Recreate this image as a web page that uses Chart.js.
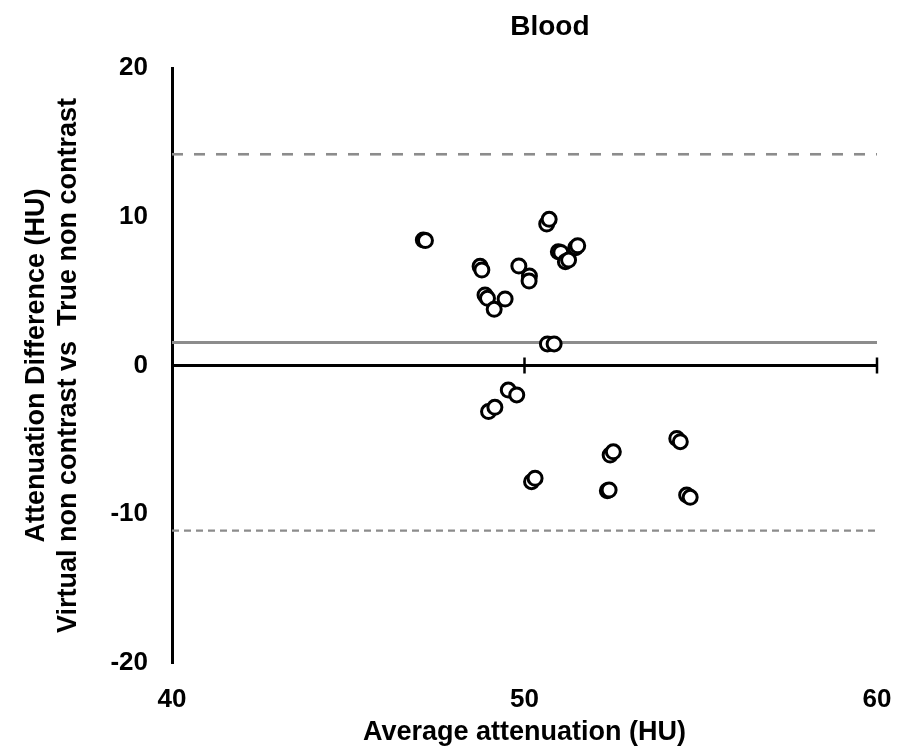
<!DOCTYPE html>
<html>
<head>
<meta charset="utf-8">
<title>Blood</title>
<script src="https://cdn.jsdelivr.net/npm/chart.js@4/dist/chart.umd.min.js"></script>
<style>
    body { margin: 0; background: #fff; }
    #wrap { width: 905px; height: 747px; }
</style>
</head>
<body>
<div id="wrap"><canvas id="blandAltman" width="905" height="747"></canvas></div>
<script>
// Data
const avgAttenuation = [47.13, 47.19, 48.74, 48.79, 48.88, 48.95, 49.14, 49.45, 49.84, 50.14, 50.13, 50.63, 50.70, 50.96, 51.03, 51.16, 51.25, 51.45, 51.51, 50.65, 50.84, 49.54, 49.78, 48.98, 49.16, 50.20, 50.30, 52.43, 52.52, 52.35, 52.40, 54.32, 54.42, 54.60, 54.70];
const attenDiff = [8.44, 8.40, 6.67, 6.42, 4.74, 4.52, 3.78, 4.47, 6.69, 6.02, 5.68, 9.51, 9.83, 7.65, 7.60, 6.98, 7.09, 7.92, 8.05, 1.45, 1.45, -1.65, -1.98, -3.10, -2.81, -7.81, -7.58, -6.02, -5.80, -8.42, -8.37, -4.90, -5.12, -8.71, -8.86];
const lineSpan = [40, 60];
const meanDiff = 1.55;
const upperLimit = 14.2;
const lowerLimit = -11.1;
const xTicks = [40, 50, 60];
const yTicks = [-20, -10, 0, 10, 20];

const FONT = "'Liberation Sans', Arial, sans-serif";

function hLine(yVal) {
    return lineSpan.map(x => ({ x: x, y: yVal }));
}

// zero axis with crossing ticks + chart title
const extrasPlugin = {
    id: 'extras',
    beforeDatasetsDraw(chart) {
        const { ctx, scales: { x, y } } = chart;
        const y0 = y.getPixelForValue(0);
        ctx.save();
        ctx.strokeStyle = '#000';
        ctx.lineWidth = 3;
        ctx.beginPath();
        ctx.moveTo(x.getPixelForValue(xTicks[0]), y0);
        ctx.lineTo(x.getPixelForValue(xTicks[xTicks.length - 1]), y0);
        ctx.stroke();
        ctx.lineWidth = 2.5;
        xTicks.slice(1).forEach(v => {
            const px = x.getPixelForValue(v);
            ctx.beginPath();
            ctx.moveTo(px, y0 - 8);
            ctx.lineTo(px, y0 + 8);
            ctx.stroke();
        });
        ctx.restore();
    },
    afterDraw(chart) {
        const { ctx, chartArea } = chart;
        ctx.save();
        ctx.fillStyle = '#000';
        ctx.font = "bold 28px " + FONT;
        ctx.textAlign = 'center';
        ctx.textBaseline = 'middle';
        ctx.fillText('Blood', chartArea.left + (chartArea.right - chartArea.left) * 0.536, 27);
        ctx.restore();
    }
};

new Chart(document.getElementById('blandAltman'), {
    type: 'scatter',
    data: {
        datasets: [
            {
                label: 'Difference',
                data: avgAttenuation.map((v, i) => ({ x: v, y: attenDiff[i] })),
                pointRadius: 7,
                pointBorderWidth: 3,
                pointBackgroundColor: '#fff',
                pointBorderColor: '#000',
                order: 0
            },
            {
                type: 'line',
                label: 'Mean',
                data: hLine(meanDiff),
                borderColor: '#8c8c8c',
                borderWidth: 3,
                pointRadius: 0,
                order: 1
            },
            {
                type: 'line',
                label: 'Upper LoA',
                data: hLine(upperLimit),
                borderColor: '#8c8c8c',
                borderWidth: 2.6,
                borderDash: [11, 11],
                pointRadius: 0,
                order: 2
            },
            {
                type: 'line',
                label: 'Lower LoA',
                data: hLine(lowerLimit),
                borderColor: '#8c8c8c',
                borderWidth: 2.4,
                borderDash: [7, 5],
                pointRadius: 0,
                order: 3
            }
        ]
    },
    options: {
        responsive: false,
        devicePixelRatio: 1,
        animation: false,
        layout: { padding: { top: 68, right: 0, left: 0, bottom: 0 } },
        plugins: {
            legend: { display: false },
            tooltip: { enabled: false }
        },
        scales: {
            x: {
                type: 'linear',
                min: 40,
                max: 60,
                afterBuildTicks: s => { s.ticks = xTicks.map(v => ({ value: v })); },
                afterFit: s => { s.height = 84; s.paddingRight = 28; s.paddingLeft = 0; },
                grid: { display: true, drawOnChartArea: false, drawTicks: false },
                border: { display: false },
                ticks: {
                    color: '#000',
                    padding: 21,
                    font: { family: FONT, size: 26, weight: 'bold' }
                },
                title: {
                    display: true,
                    text: 'Average attenuation (HU)',
                    color: '#000',
                    padding: { top: 0, bottom: -2 },
                    font: { family: FONT, size: 27, weight: 'bold' }
                }
            },
            y: {
                type: 'linear',
                min: -20,
                max: 20,
                afterBuildTicks: s => { s.ticks = yTicks.map(v => ({ value: v })); },
                afterFit: s => { s.width = 172; },
                grid: { display: true, drawOnChartArea: false, drawTicks: false },
                border: { display: true, color: '#000', width: 3 },
                ticks: {
                    color: '#000',
                    padding: 24,
                    font: { family: FONT, size: 26, weight: 'bold' }
                },
                title: {
                    display: true,
                    text: ['Attenuation Difference (HU)', 'Virtual non contrast vs  True non contrast'],
                    color: '#000',
                    padding: { top: 20, bottom: 0 },
                    font: { family: FONT, size: 27, weight: 'bold', lineHeight: 1.2 }
                }
            }
        }
    },
    plugins: [extrasPlugin]
});
</script>
</body>
</html>
